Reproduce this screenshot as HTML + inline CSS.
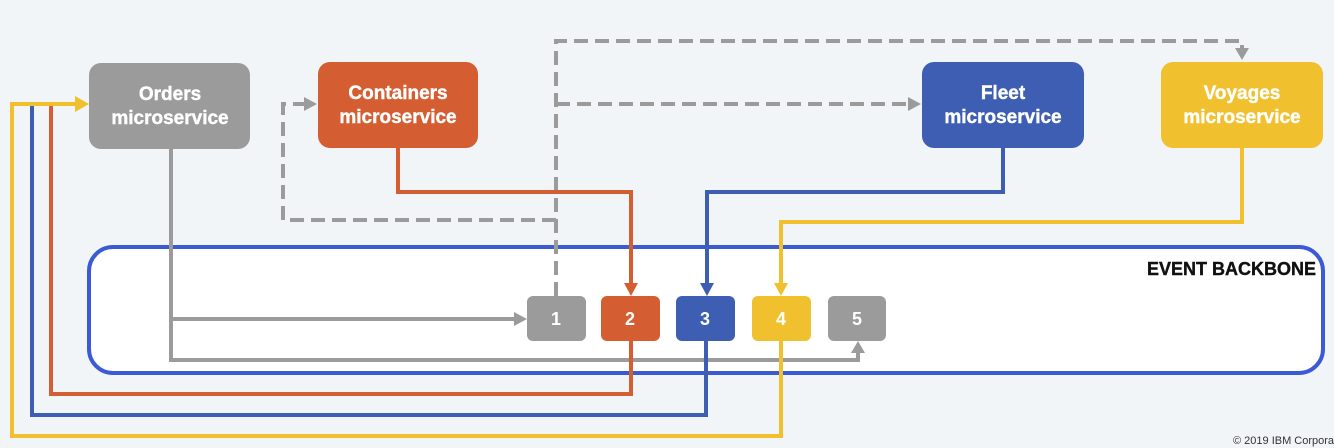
<!DOCTYPE html>
<html><head><meta charset="utf-8"><style>
html,body{margin:0;padding:0;background:#f2f5f8;}
svg{display:block;}
text{font-family:"Liberation Sans",sans-serif;font-weight:bold;}
</style></head><body>
<svg width="1334" height="448" viewBox="0 0 1334 448" xmlns="http://www.w3.org/2000/svg">
<rect width="1334" height="448" fill="#f2f5f8"/>
<!-- backbone -->
<rect x="89" y="247" width="1234" height="126" rx="24" fill="#fff" stroke="#3b5bd6" stroke-width="4"/>
<text x="1316" y="275" font-size="18" text-anchor="end" fill="#111" stroke="#111" stroke-width="0.4">EVENT BACKBONE</text>

<!-- dashed gray -->
<g fill="none" stroke="#9b9b9b" stroke-width="4" stroke-dasharray="14,7">
<path d="M556 296 V41 H1242 V50"/>
<path d="M556 104 H908"/>
<path d="M556 220 H283 V104 H304"/>
</g>
<path d="M1235 48 L1249 48 L1242 60 Z" fill="#9b9b9b"/>
<path d="M908 97 L921 104 L908 111 Z" fill="#9b9b9b"/>
<path d="M304 97 L317 104 L304 111 Z" fill="#9b9b9b"/>

<!-- orders lines -->
<g fill="none" stroke="#9b9b9b" stroke-width="4">
<path d="M171 149 V360 H858 V352"/>
<path d="M171 319 H514"/>
</g>
<path d="M514 312 L527 319 L514 326 Z" fill="#9b9b9b"/>
<path d="M851 353 L858 341 L865 353 Z" fill="#9b9b9b"/>

<!-- containers -->
<path d="M398 148 V192 H631 V284" fill="none" stroke="#d45d31" stroke-width="4"/>
<path d="M624 283 L638 283 L631 296 Z" fill="#d45d31"/>
<!-- fleet -->
<path d="M1003 148 V192 H707 V284" fill="none" stroke="#3d5eb3" stroke-width="4"/>
<path d="M700 283 L714 283 L707 296 Z" fill="#3d5eb3"/>
<!-- voyages -->
<path d="M1242 148 V222 H781 V284" fill="none" stroke="#f0c02e" stroke-width="4"/>
<path d="M774 283 L788 283 L781 296 Z" fill="#f0c02e"/>

<!-- returns -->
<path d="M631 341 V394 H51 V104" fill="none" stroke="#d45d31" stroke-width="4"/>
<path d="M706 341 V415 H32 V104" fill="none" stroke="#3d5eb3" stroke-width="4"/>
<path d="M781 341 V436 H12 V104 H76" fill="none" stroke="#f0c02e" stroke-width="4"/>
<path d="M75 96 L89 104 L75 112 Z" fill="#f0c02e"/>

<!-- service boxes -->
<g font-size="19" fill="#fff" text-anchor="middle" stroke="#fff" stroke-width="0.4">
<rect x="89" y="63" width="161" height="86" rx="12" fill="#9b9b9b" stroke="none"/>
<text x="170" y="100">Orders</text>
<text x="170" y="124">microservice</text>
<rect x="318" y="62" width="160" height="86" rx="12" fill="#d45d31" stroke="none"/>
<text x="398" y="99">Containers</text>
<text x="398" y="123">microservice</text>
<rect x="922" y="62" width="162" height="86" rx="12" fill="#3d5eb3" stroke="none"/>
<text x="1003" y="99">Fleet</text>
<text x="1003" y="123">microservice</text>
<rect x="1161" y="62" width="162" height="86" rx="12" fill="#f0c02e" stroke="none"/>
<text x="1242" y="99">Voyages</text>
<text x="1242" y="123">microservice</text>
</g>

<!-- topic boxes -->
<g font-size="18" fill="#fff" text-anchor="middle">
<rect x="527" y="296" width="59" height="45" rx="6" fill="#9b9b9b"/>
<text x="556" y="325">1</text>
<rect x="601" y="296" width="59" height="45" rx="6" fill="#d45d31"/>
<text x="630" y="325">2</text>
<rect x="676" y="296" width="59" height="45" rx="6" fill="#3d5eb3"/>
<text x="705" y="325">3</text>
<rect x="752" y="296" width="59" height="45" rx="6" fill="#f0c02e"/>
<text x="781" y="325">4</text>
<rect x="828" y="296" width="58" height="45" rx="6" fill="#9b9b9b"/>
<text x="857" y="325">5</text>
</g>

<text x="1233" y="444" font-size="11" fill="#333" style="font-weight:normal">© 2019 IBM Corpora</text>
</svg>
</body></html>
